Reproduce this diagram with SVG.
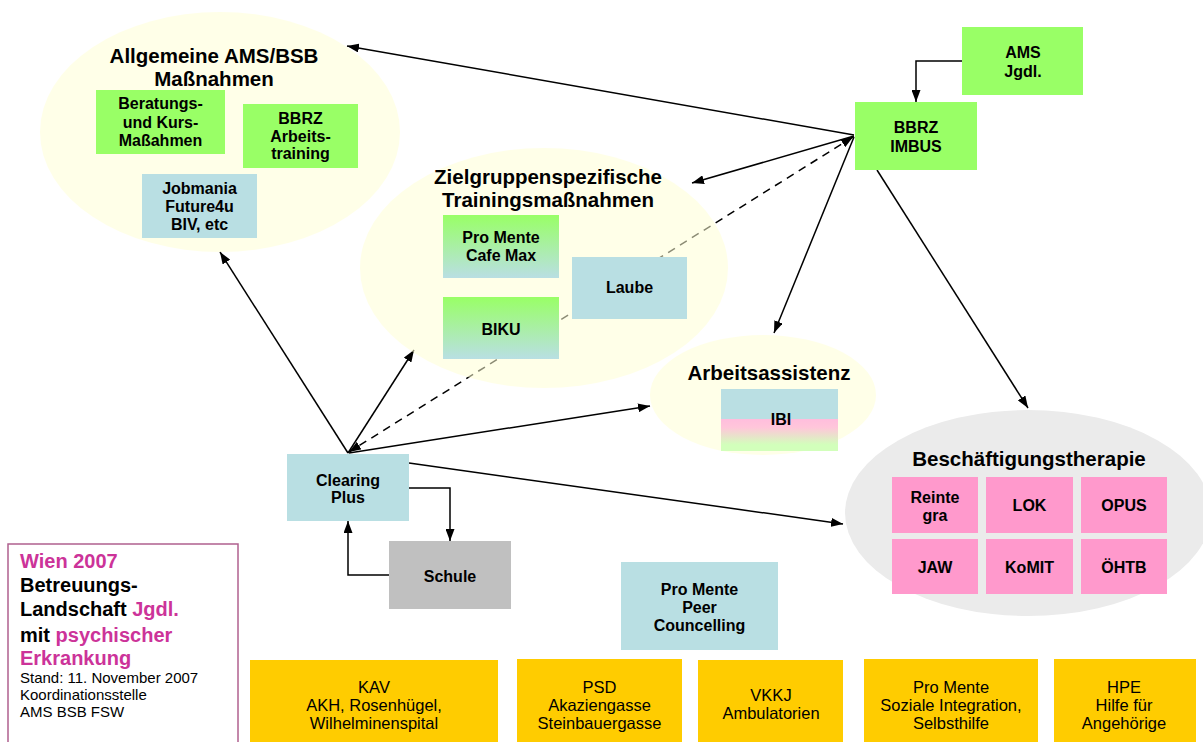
<svg xmlns="http://www.w3.org/2000/svg" width="1203" height="742" viewBox="0 0 1203 742">
<defs>
<style>
text { font-family: "Liberation Sans", Arial, sans-serif; fill:#000; }
.ti { font-size:20.5px; font-weight:bold; text-anchor:middle; }
.bx { font-size:16px; font-weight:bold; text-anchor:middle; }
.rg { font-size:16.5px; text-anchor:middle; }
.lg { font-size:20px; font-weight:bold; }
.sm { font-size:15px; }
.mg { fill:#CC3399; }
.c { stroke:#000; stroke-width:1.5; fill:none; marker-end:url(#ah); }
.d { stroke-dasharray:8 6; marker-start:url(#ah); }
.yel { fill:#FFFFD5; fill-opacity:0.55; }
.green { fill:#99FF66; }
.blue { fill:#B9DFE3; }
.pink { fill:#FF99CC; }
.gold { fill:#FFCC00; }
</style>
<marker id="ah" viewBox="0 0 12 9" refX="12" refY="4.5" markerWidth="12" markerHeight="9" markerUnits="userSpaceOnUse" orient="auto-start-reverse">
<path d="M0,0 L12,4.5 L0,9 Z" fill="#000"/>
</marker>
<linearGradient id="gb" x1="0" y1="0" x2="0" y2="1">
<stop offset="0" stop-color="#99FF66"/>
<stop offset="1" stop-color="#B9DFE3"/>
</linearGradient>
<linearGradient id="ibi" x1="0" y1="0" x2="0" y2="1">
<stop offset="0" stop-color="#BADFE3"/>
<stop offset="0.48" stop-color="#BADFE3"/>
<stop offset="0.49" stop-color="#FFBEDD"/>
<stop offset="0.62" stop-color="#FFC6DA"/>
<stop offset="0.9" stop-color="#D2FFBB"/>
<stop offset="1" stop-color="#D2FFBB"/>
</linearGradient>
</defs>
<rect width="1203" height="742" fill="#fff"/>

<g id="connectors">
<path class="c" d="M854,135 L347,46"/>
<path class="c" d="M854,136 L692,183"/>
<path class="c d" d="M853,137 L349,452"/>
<path class="c" d="M854,137 L774,333"/>
<path class="c" d="M877,170 L1028,408"/>
<path class="c" d="M962,61 H916 V102"/>
<path class="c" d="M348,453 L220,252"/>
<path class="c" d="M348,453 L414,350"/>
<path class="c" d="M349,453 L650,406"/>
<path class="c" d="M409,463 L843,524"/>
<path class="c" d="M409,488 H450 V541"/>
<path class="c" d="M389,575 H348 V521"/>
</g>

<g id="allgemeine">
<ellipse class="yel" cx="220" cy="132" rx="180" ry="120"/>
<text class="ti" x="214" y="63">Allgemeine AMS/BSB</text>
<text class="ti" x="214" y="86">Maßnahmen</text>
</g>
<g id="beratung">
<rect class="green" x="96" y="90" width="129" height="64"/>
<text class="bx" x="160.5" y="109">Beratungs-</text>
<text class="bx" x="160.5" y="128">und Kurs-</text>
<text class="bx" x="160.5" y="146">Maßahmen</text>
</g>
<g id="bbrz-arbeitstraining">
<rect class="green" x="243" y="104" width="115" height="64"/>
<text class="bx" x="300.5" y="124">BBRZ</text>
<text class="bx" x="300.5" y="142">Arbeits-</text>
<text class="bx" x="300.5" y="159">training</text>
</g>
<g id="jobmania">
<rect class="blue" x="142" y="174" width="115" height="64"/>
<text class="bx" x="199.5" y="194">Jobmania</text>
<text class="bx" x="199.5" y="212">Future4u</text>
<text class="bx" x="199.5" y="230">BIV, etc</text>
</g>

<g id="zielgruppen">
<ellipse class="yel" cx="544" cy="268" rx="184" ry="120"/>
<text class="ti" x="548" y="184">Zielgruppenspezifische</text>
<text class="ti" x="548" y="207">Trainingsmaßnahmen</text>
</g>
<g id="cafemax">
<rect fill="url(#gb)" x="443" y="215" width="116" height="63"/>
<text class="bx" x="501" y="243">Pro Mente</text>
<text class="bx" x="501" y="261">Cafe Max</text>
</g>
<g id="laube">
<rect class="blue" x="572" y="257" width="115" height="62"/>
<text class="bx" x="629.5" y="293">Laube</text>
</g>
<g id="biku">
<rect fill="url(#gb)" x="443" y="297" width="116" height="62"/>
<text class="bx" x="501" y="335">BIKU</text>
</g>

<g id="arbeitsassistenz">
<ellipse class="yel" cx="763" cy="395" rx="113" ry="60"/>
<text class="ti" x="769" y="380">Arbeitsassistenz</text>
</g>
<g id="ibi">
<rect fill="url(#ibi)" x="721" y="389" width="117" height="62"/>
<text class="bx" x="781" y="425">IBI</text>
</g>

<g id="ams">
<rect class="green" x="962" y="27" width="121" height="68"/>
<text class="bx" x="1023" y="58">AMS</text>
<text class="bx" x="1023" y="77">Jgdl.</text>
</g>
<g id="bbrz-imbus">
<rect class="green" x="855" y="102" width="122" height="68"/>
<text class="bx" x="916" y="133">BBRZ</text>
<text class="bx" x="916" y="152">IMBUS</text>
</g>

<g id="clearing">
<rect class="blue" x="287" y="454" width="122" height="67"/>
<text class="bx" x="348" y="486">Clearing</text>
<text class="bx" x="348" y="503">Plus</text>
</g>
<g id="schule">
<rect fill="#C0C0C0" x="389" y="541" width="122" height="68"/>
<text class="bx" x="450" y="582">Schule</text>
</g>
<g id="peer">
<rect class="blue" x="621" y="562" width="157" height="88"/>
<text class="bx" x="699.5" y="595">Pro Mente</text>
<text class="bx" x="699.5" y="613">Peer</text>
<text class="bx" x="699.5" y="631">Councelling</text>
</g>

<g id="beschaeftigung">
<ellipse fill="#EBEBEB" cx="1028" cy="513" rx="183" ry="103"/>
<text class="ti" x="1029" y="466">Beschäftigungstherapie</text>
</g>
<g id="reintegra">
<rect class="pink" x="892" y="477" width="86" height="56"/>
<text class="bx" x="935" y="503">Reinte</text>
<text class="bx" x="935" y="521">gra</text>
</g>
<g id="lok">
<rect class="pink" x="986" y="477" width="87" height="56"/>
<text class="bx" x="1029.5" y="511">LOK</text>
</g>
<g id="opus">
<rect class="pink" x="1081" y="477" width="86" height="56"/>
<text class="bx" x="1124" y="511">OPUS</text>
</g>
<g id="jaw">
<rect class="pink" x="892" y="539" width="86" height="55"/>
<text class="bx" x="935" y="573">JAW</text>
</g>
<g id="komit">
<rect class="pink" x="986" y="539" width="87" height="55"/>
<text class="bx" x="1029.5" y="573">KoMIT</text>
</g>
<g id="oehtb">
<rect class="pink" x="1081" y="539" width="86" height="55"/>
<text class="bx" x="1124" y="573">ÖHTB</text>
</g>

<g id="kav">
<rect class="gold" x="250" y="660" width="248" height="84"/>
<text class="rg" x="374" y="693">KAV</text>
<text class="rg" x="374" y="711">AKH, Rosenhügel,</text>
<text class="rg" x="374" y="729">Wilhelminenspital</text>
</g>
<g id="psd">
<rect class="gold" x="517" y="659" width="165" height="85"/>
<text class="rg" x="599.5" y="693">PSD</text>
<text class="rg" x="599.5" y="711">Akaziengasse</text>
<text class="rg" x="599.5" y="729">Steinbauergasse</text>
</g>
<g id="vkkj">
<rect class="gold" x="698" y="660" width="145" height="84"/>
<text class="rg" x="771" y="701">VKKJ</text>
<text class="rg" x="771" y="719">Ambulatorien</text>
</g>
<g id="promente-soziale">
<rect class="gold" x="864" y="659" width="174" height="85"/>
<text class="rg" x="951" y="693">Pro Mente</text>
<text class="rg" x="951" y="711">Soziale Integration,</text>
<text class="rg" x="951" y="729">Selbsthilfe</text>
</g>
<g id="hpe">
<rect class="gold" x="1054" y="659" width="142" height="85"/>
<text class="rg" x="1124" y="693">HPE</text>
<text class="rg" x="1124" y="711">Hilfe für</text>
<text class="rg" x="1124" y="729">Angehörige</text>
</g>

<g id="legend">
<rect x="8" y="544" width="230" height="210" fill="#fff" stroke="#B0608F" stroke-width="1.5"/>
<text class="lg mg" x="20" y="568">Wien 2007</text>
<text class="lg" x="20" y="592">Betreuungs-</text>
<text class="lg" x="20" y="616">Landschaft <tspan class="mg">Jgdl.</tspan></text>
<text class="lg" x="20" y="642">mit <tspan class="mg">psychischer</tspan></text>
<text class="lg mg" x="20" y="665">Erkrankung</text>
<text class="sm" x="20" y="683">Stand: 11. November 2007</text>
<text class="sm" x="20" y="700">Koordinationsstelle</text>
<text class="sm" x="20" y="717">AMS BSB FSW</text>
</g>
</svg>
